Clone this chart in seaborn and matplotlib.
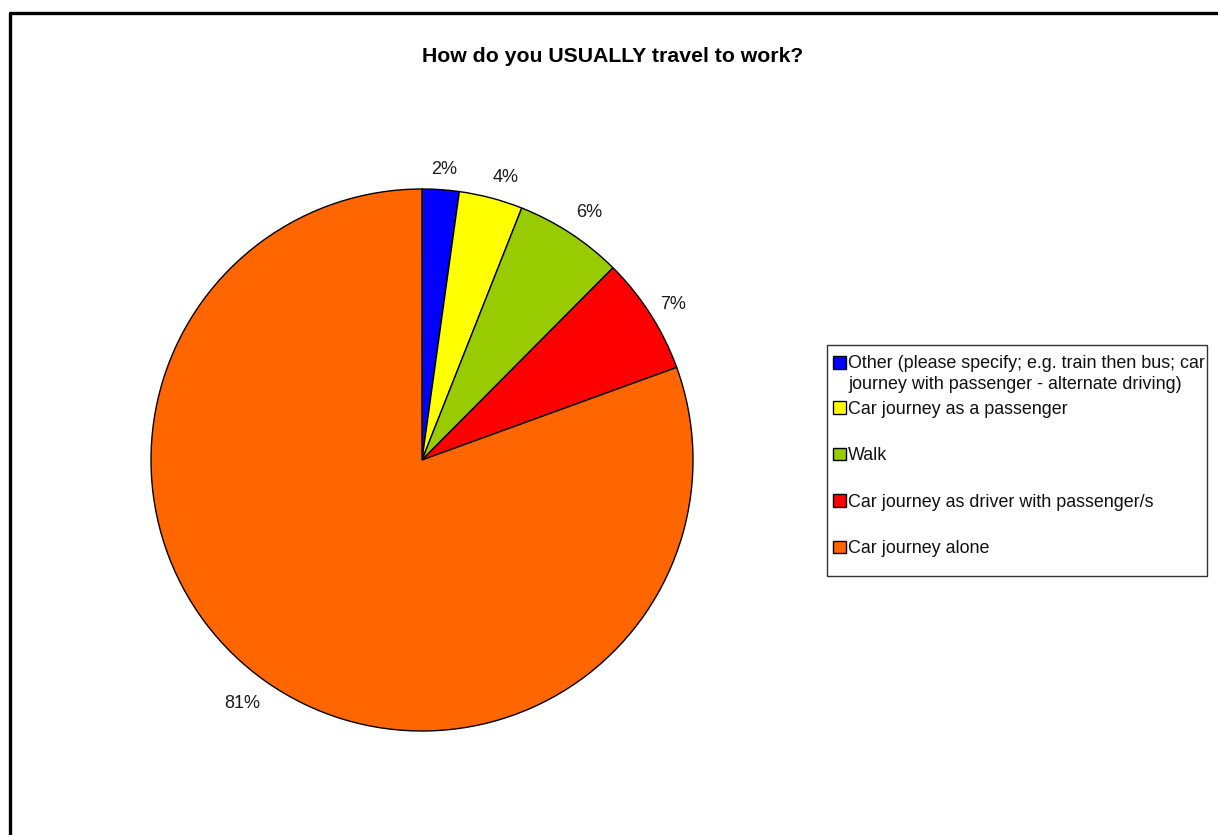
import matplotlib
matplotlib.use("Agg")
import matplotlib.pyplot as plt
from matplotlib.lines import Line2D
from matplotlib.patches import Rectangle
from matplotlib.transforms import ScaledTranslation
import seaborn as sns

# Survey answers: share of respondents per travel mode (%)
modes = [
    "Other (please specify; e.g. train then bus; car\njourney with passenger - alternate driving)",
    "Car journey as a passenger",
    "Walk",
    "Car journey as driver with passenger/s",
    "Car journey alone",
]
shares = [2.2, 3.8, 6.45, 7.0, 80.55]
colors = ["#0000FF", "#FFFF00", "#99CC00", "#FF0000", "#FF6600"]

# Per-label nudge of the percentage labels (pixels, right / down)
label_nudge = [(1.5, 5.5), (8.5, 4.5), (4.5, 1.0), (1.5, 4.5), (-9.5, 0.5)]

sns.set_theme(style="white")
plt.rcParams["font.family"] = ["Liberation Sans", "DejaVu Sans"]

W, H = 1218, 835
fig = plt.figure(figsize=(W / 100, H / 100), dpi=100)
fig.patch.set_facecolor("white")


def fx(px):
    return px / W


def fy(py):
    return 1 - py / H


# Chart frame (left and top edges visible)
fig.add_artist(Line2D([fx(9.5), fx(9.5)], [0, fy(12.5)], color="black", lw=2.4,
                      transform=fig.transFigure))
fig.add_artist(Line2D([fx(9.5), 1], [fy(12.5), fy(12.5)], color="black", lw=2.4,
                      transform=fig.transFigure))

fig.text(fx(613), fy(56), "How do you USUALLY travel to work?",
         ha="center", va="center", fontsize=15.3, fontweight="bold", color="black")

cx, cy, r = 422, 460, 271
ax = fig.add_axes([fx(cx - r), fy(cy + r), 2 * r / W, 2 * r / H])
wedges, texts, autotexts = ax.pie(
    shares,
    colors=colors,
    startangle=90,
    counterclock=False,
    autopct="%.0f%%",
    pctdistance=1.095,
    wedgeprops=dict(edgecolor="black", linewidth=1.0),
    textprops=dict(fontsize=13, color="#1a1a1a"),
)
for t, (dx, dy) in zip(autotexts, label_nudge):
    t.set_transform(ax.transData + ScaledTranslation(dx / 100, -dy / 100,
                                                     fig.dpi_scale_trans))
ax.set_xlim(-1, 1)
ax.set_ylim(-1, 1)
ax.set_aspect("equal")
ax.axis("off")

# Legend frame
fig.add_artist(Rectangle((fx(827), fy(576)), fx(1207) - fx(827), fy(345) - fy(576),
                         transform=fig.transFigure, facecolor="white",
                         edgecolor="#333333", lw=1.0, zorder=0))

leg_kw = dict(
    loc="upper left",
    fontsize=12.9,
    frameon=False,
    handlelength=0.7,
    handleheight=0.7,
    handletextpad=0.15,
    borderpad=0,
    borderaxespad=0,
    labelcolor="#111111",
)

# First entry (two-line label), handle level with its first line
leg1 = fig.legend(wedges[:1], modes[:1], bbox_to_anchor=(fx(833), fy(354.5)),
                  labelspacing=0, **leg_kw)
leg1.get_texts()[0].set_linespacing(1.38)
h0 = leg1.legend_handles[0]
h0.set_y(h0.get_y() + 8.3)

# Remaining entries
leg2 = fig.legend(wedges[1:], modes[1:], bbox_to_anchor=(fx(833), fy(400.5)),
                  labelspacing=1.65, **leg_kw)

fig.savefig("out.png", dpi=100, facecolor="white")
